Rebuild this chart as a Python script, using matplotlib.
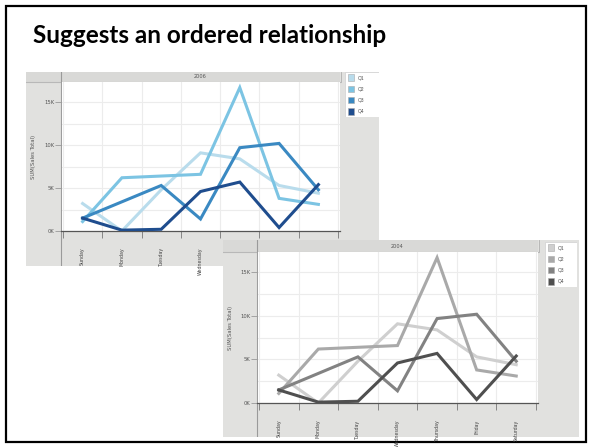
import matplotlib
matplotlib.use("Agg")
import matplotlib.pyplot as plt
from matplotlib.patches import Rectangle
from matplotlib.lines import Line2D

# ---- data -------------------------------------------------------------
days = ["Sunday", "Monday", "Tuesday", "Wednesday", "Thursday", "Friday", "Saturday"]
quarters = ["Q1", "Q2", "Q3", "Q4"]
# SUM(Sales Total) in thousands
q1_sales = [3.2, 0.0, 4.8, 9.1, 8.4, 5.3, 4.4]
q2_sales = [1.1, 6.2, 6.4, 6.6, 16.7, 3.8, 3.1]
q3_sales = [1.5, 3.4, 5.3, 1.4, 9.7, 10.2, 4.8]
q4_sales = [1.5, 0.1, 0.2, 4.6, 5.7, 0.4, 5.4]
series = [q1_sales, q2_sales, q3_sales, q4_sales]
y_ticks = [0, 5, 10, 15]
y_tick_labels = ["0K", "5K", "10K", "15K"]

blue_palette = ["#b9dcec", "#7cc4e3", "#3a89c2", "#1f4d8e"]
gray_palette = ["#cfcfcf", "#a9a9a9", "#828282", "#4f4f4f"]

W, H = 592, 447
fig = plt.figure(figsize=(W / 100, H / 100), dpi=100)
fig.patch.set_facecolor("white")


def box(x0, y0, x1, y1):
    """Figure-fraction rectangle from pixel edges (origin top-left)."""
    return [x0 / W, 1 - y1 / H, (x1 - x0) / W, (y1 - y0) / H]


def panel(outer, plot, legend, year, palette, show_days):
    ox0, oy0, ox1, oy1 = outer
    px0, py0, px1, py1 = plot

    # grey window background with header strip
    bg = fig.add_axes(box(*outer))
    bg.set_xlim(ox0, ox1)
    bg.set_ylim(oy1, oy0)
    bg.axis("off")
    bg.add_patch(Rectangle((ox0, oy0), ox1 - ox0, oy1 - oy0,
                           facecolor="#e1e1df", edgecolor="none"))
    bg.add_patch(Rectangle((ox0, oy0), px1 - ox0, py0 - oy0,
                           facecolor="#d9d9d7", edgecolor="none"))
    bg.add_line(Line2D([ox0, px1], [py0 - 0.5, py0 - 0.5], color="#b8b8b8", lw=0.8))
    bg.add_line(Line2D([px0 - 0.5, px0 - 0.5], [oy0, oy1], color="#9a9a9a", lw=0.8))
    bg.add_line(Line2D([px1 + 0.5, px1 + 0.5], [oy0, py0], color="#b0b0b0", lw=0.6))
    bg.text((px0 + px1) / 2, (oy0 + py0) / 2, year, ha="center", va="center",
            fontsize=3.6, color="#555555")
    bg.text(ox0 + (px0 - ox0) * 0.22, (py0 + py1) / 2, "SUM(Sales Total)",
            rotation=90, ha="center", va="center", fontsize=3.8, color="#555555")

    # line chart
    ax = fig.add_axes(box(*plot))
    ax.set_facecolor("white")
    for vals, col, q in zip(series, palette, quarters):
        ax.plot(range(len(days)), vals, color=col, lw=2.2, solid_joinstyle="miter",
                label=q, zorder=3)
    ax.set_xlim(-0.55, len(days) - 0.45)
    ax.set_ylim(0, 17.35)
    ax.set_yticks(y_ticks)
    ax.set_yticklabels(y_tick_labels, fontsize=3.8, color="#555555")
    ax.set_yticks([2.5, 7.5, 12.5], minor=True)
    ax.set_xticks([i + 0.5 for i in range(-1, len(days))])
    ax.set_xticklabels([])
    ax.tick_params(axis="x", length=5, width=0.6, color="#777777", direction="out")
    ax.tick_params(axis="y", which="major", length=4, width=0.6, color="#999999", pad=1)
    ax.tick_params(axis="y", which="minor", length=0)
    ax.grid(True, which="both", color="#ececec", lw=0.8, zorder=0)
    ax.set_axisbelow(True)
    for side in ("top", "right"):
        ax.spines[side].set_visible(False)
    ax.spines["left"].set_color("#9a9a9a")
    ax.spines["left"].set_linewidth(0.7)
    ax.spines["bottom"].set_color("#555555")
    ax.spines["bottom"].set_linewidth(0.9)
    for i, d in enumerate(days):
        if i < show_days:
            ax.text(i, -1.9, d, rotation=90, ha="center", va="top",
                    fontsize=3.4, color="#444444", clip_on=False)

    # legend box
    lx0, ly0, lx1, ly1 = legend
    lg = fig.add_axes(box(*legend))
    lg.set_xlim(lx0, lx1)
    lg.set_ylim(ly1, ly0)
    lg.axis("off")
    lg.add_patch(Rectangle((lx0, ly0), lx1 - lx0, ly1 - ly0,
                           facecolor="white", edgecolor="#d0d0d0", lw=0.5))
    step = (ly1 - ly0) / 4
    for k, (col, q) in enumerate(zip(palette, quarters)):
        cy = ly0 + step * (k + 0.5)
        lg.add_patch(Rectangle((lx0 + 2.5, cy - 3.3), 6.6, 6.6,
                               facecolor=col, edgecolor="#aaaaaa", lw=0.4))
        lg.text(lx0 + 13, cy, q, ha="left", va="center", fontsize=3.4, color="#555555")


# slide frame and heading
frame = fig.add_axes([0, 0, 1, 1])
frame.set_xlim(0, W)
frame.set_ylim(H, 0)
frame.axis("off")
frame.add_patch(Rectangle((6, 6), W - 12, H - 11, facecolor="white",
                          edgecolor="black", lw=1.6))
frame.text(33, 43, "Suggests an ordered relationship", ha="left", va="baseline",
           fontsize=17.5, fontweight="bold", family="Lato", color="black")

# 2006 window (partly hidden by the 2004 window)
panel(outer=(26, 72, 379, 266), plot=(61, 82, 340, 231),
      legend=(345, 72, 379, 117), year="2006", palette=blue_palette, show_days=7)

# 2004 window
panel(outer=(223, 240, 579, 437), plot=(257, 252, 538, 403),
      legend=(545, 242, 577, 287), year="2004", palette=gray_palette, show_days=7)

fig.savefig("out.png", dpi=100, facecolor="white")
